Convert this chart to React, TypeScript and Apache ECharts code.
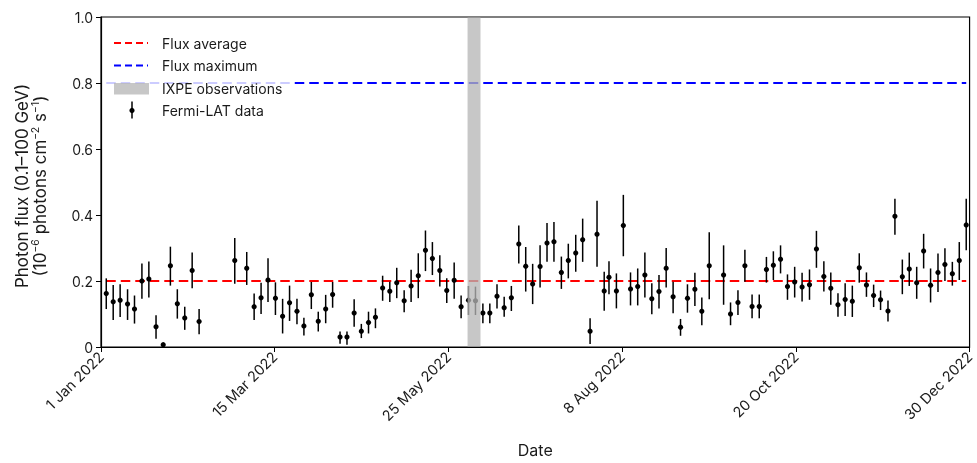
import React, { useEffect, useRef } from "react";
import * as echarts from "echarts";

const xTickLabels = ["1 Jan 2022", "15 Mar 2022", "25 May 2022", "8 Aug 2022", "20 Oct 2022", "30 Dec 2022"];
const xTickStep = 72.6;
const xMaxDay = 363;
const yTickLabels = ["0", "0.2", "0.4", "0.6", "0.8", "1.0"];

const days = [
  2.2, 5.1, 8.0, 11.1, 14.0, 17.1, 20.0, 23.0, 26.0, 29.0, 31.9, 35.0, 38.1, 41.0, 55.9, 60.9, 64.0, 66.9, 69.8,
  72.9, 75.9, 78.8, 81.9, 84.8, 87.9, 90.8, 93.9, 96.8, 99.9, 102.8, 105.8, 108.8, 111.8, 114.7, 117.7, 120.7, 123.6, 126.7, 129.6, 132.6, 135.6, 138.5, 141.6,
  144.5, 147.6, 150.5, 153.6, 156.5, 159.6, 162.5, 165.5, 168.5, 171.5, 174.6, 177.5, 180.4, 183.5, 186.4, 189.3, 192.4, 195.3, 198.4, 201.3, 204.4, 207.3, 210.3, 212.3,
  215.4, 218.3, 221.3, 224.3, 227.3, 230.2, 233.2, 236.2, 239.1, 242.2, 245.1, 248.2, 251.1, 254.2, 260.2, 263.1, 266.2, 269.1, 272.1, 275.1, 278.1, 281.0, 284.0,
  286.9, 289.9, 293.0, 296.1, 299.0, 302.1, 305.0, 308.0, 311.0, 314.0, 316.9, 319.9, 322.9, 325.8, 328.9, 331.8, 334.9, 337.8, 340.9, 343.8, 346.7, 349.8, 352.7, 355.8, 358.7, 361.6,
];

const flux = [
  0.162, 0.137, 0.142, 0.130, 0.115, 0.200, 0.206, 0.061, 0.007, 0.246, 0.131, 0.088, 0.232, 0.077, 0.262, 0.239, 0.122, 0.149, 0.203,
  0.148, 0.093, 0.134, 0.108, 0.064, 0.158, 0.078, 0.115, 0.159, 0.030, 0.030, 0.103, 0.048, 0.074, 0.090, 0.179, 0.169, 0.195, 0.140, 0.185, 0.216, 0.293, 0.268, 0.232,
  0.171, 0.202, 0.122, 0.142, 0.140, 0.103, 0.103, 0.154, 0.119, 0.149, 0.312, 0.245, 0.191, 0.244, 0.315, 0.319, 0.226, 0.262, 0.285, 0.325, 0.048, 0.342, 0.170, 0.211,
  0.170, 0.368, 0.176, 0.183, 0.218, 0.146, 0.168, 0.239, 0.152, 0.060, 0.148, 0.175, 0.108, 0.246, 0.218, 0.100, 0.135, 0.246, 0.123, 0.123, 0.235, 0.248, 0.266,
  0.183, 0.197, 0.182, 0.189, 0.297, 0.214, 0.178, 0.128, 0.144, 0.139, 0.240, 0.188, 0.156, 0.143, 0.109, 0.396, 0.213, 0.236, 0.195, 0.291, 0.187, 0.226, 0.250, 0.222, 0.262, 0.370,
];

const fluxHigh = [
  0.208, 0.188, 0.190, 0.175, 0.156, 0.253, 0.259, 0.096, 0.012, 0.304, 0.175, 0.122, 0.286, 0.115, 0.330, 0.288, 0.162, 0.195, 0.269,
  0.196, 0.146, 0.186, 0.146, 0.089, 0.197, 0.107, 0.158, 0.197, 0.047, 0.047, 0.145, 0.070, 0.107, 0.117, 0.216, 0.198, 0.240, 0.172, 0.234, 0.284, 0.353, 0.318, 0.278,
  0.208, 0.256, 0.156, 0.185, 0.183, 0.132, 0.132, 0.190, 0.152, 0.185, 0.368, 0.303, 0.252, 0.308, 0.376, 0.379, 0.274, 0.313, 0.340, 0.389, 0.087, 0.443, 0.228, 0.260,
  0.223, 0.461, 0.226, 0.238, 0.286, 0.193, 0.218, 0.300, 0.198, 0.085, 0.190, 0.225, 0.150, 0.348, 0.308, 0.135, 0.172, 0.295, 0.159, 0.159, 0.273, 0.290, 0.308,
  0.220, 0.243, 0.225, 0.235, 0.352, 0.260, 0.226, 0.163, 0.193, 0.186, 0.284, 0.226, 0.189, 0.171, 0.141, 0.449, 0.265, 0.286, 0.243, 0.343, 0.238, 0.283, 0.299, 0.258, 0.318, 0.449,
];

const fluxLow = [
  0.115, 0.082, 0.091, 0.082, 0.071, 0.146, 0.150, 0.025, 0.002, 0.186, 0.086, 0.052, 0.178, 0.039, 0.192, 0.188, 0.082, 0.100, 0.136,
  0.097, 0.041, 0.079, 0.069, 0.035, 0.115, 0.047, 0.072, 0.119, 0.010, 0.007, 0.061, 0.027, 0.041, 0.057, 0.140, 0.136, 0.148, 0.105, 0.136, 0.148, 0.230, 0.218, 0.183,
  0.133, 0.146, 0.087, 0.097, 0.097, 0.072, 0.072, 0.117, 0.092, 0.109, 0.253, 0.168, 0.130, 0.180, 0.258, 0.258, 0.176, 0.208, 0.228, 0.258, 0.009, 0.243, 0.110, 0.160,
  0.117, 0.275, 0.126, 0.126, 0.150, 0.099, 0.117, 0.180, 0.102, 0.034, 0.104, 0.124, 0.066, 0.145, 0.128, 0.066, 0.097, 0.198, 0.087, 0.087, 0.195, 0.203, 0.223,
  0.143, 0.150, 0.138, 0.143, 0.240, 0.168, 0.128, 0.092, 0.094, 0.091, 0.195, 0.152, 0.121, 0.112, 0.077, 0.340, 0.160, 0.185, 0.146, 0.238, 0.135, 0.167, 0.200, 0.186, 0.203, 0.293,
];

const fluxAverage = 0.2;
const fluxMaximum = 0.8;
const ixpeWindow = [153.2, 158.6];

const legendLabels = ["Flux average", "Flux maximum", "IXPE observations", "Fermi-LAT data"];
const yTitleLine1 = "Photon flux (0.1–100 GeV)";
const xTitle = "Date";

const FONT = "Inter, 'Noto Sans', sans-serif";
const TEXT = "#1a1a1a";
const BAND = "rgba(181,181,181,0.76)";

export default function App() {
  const ref = useRef<HTMLDivElement>(null);

  useEffect(() => {
    if (!ref.current) return;
    const chart = echarts.init(ref.current, undefined, { renderer: "svg" });
    const first = days[0];
    const last = days[days.length - 1];
    const points = days.map((d, i) => [d, flux[i], fluxHigh[i], fluxLow[i]]);

    const legendX = 114;
    const legendRows = [43, 65.5, 88.5, 110.5];

    chart.setOption({
      animation: false,
      textStyle: { fontFamily: FONT },
      grid: {
        left: 101, right: 7, top: 17, bottom: 114,
        show: true, borderColor: "#000", borderWidth: 1.2, backgroundColor: "transparent",
      },
      xAxis: {
        type: "value",
        min: 0,
        max: xMaxDay,
        interval: xTickStep,
        name: xTitle,
        nameLocation: "middle",
        nameGap: 95,
        nameTextStyle: { fontSize: 16, color: TEXT, fontFamily: FONT },
        axisLine: { show: true, lineStyle: { color: "#000", width: 1.2 } },
        axisTick: { show: true, length: 5, lineStyle: { color: "#000", width: 1 } },
        splitLine: { show: false },
        axisLabel: {
          rotate: 45,
          fontSize: 14.5,
          color: TEXT,
          fontFamily: FONT,
          margin: 7,
          formatter: (v: number) => xTickLabels[Math.round(v / xTickStep)] ?? "",
        },
      },
      yAxis: {
        type: "value",
        min: 0,
        max: 1,
        interval: 0.2,
        axisLine: { show: true, lineStyle: { color: "#000", width: 1.2 } },
        axisTick: { show: true, length: 5, lineStyle: { color: "#000", width: 1 } },
        splitLine: { show: false },
        axisLabel: {
          fontSize: 14,
          color: TEXT,
          fontFamily: FONT,
          margin: 8,
          formatter: (v: number) => yTickLabels[Math.round(v / 0.2)] ?? "",
        },
      },
      series: [
        {
          type: "line",
          name: legendLabels[1],
          data: [[first, fluxMaximum], [last, fluxMaximum]],
          symbol: "none",
          z: 3,
          lineStyle: { color: "#0000ff", width: 2, type: [9.5, 5] },
        },
        {
          type: "line",
          name: legendLabels[0],
          data: [[first, fluxAverage], [last, fluxAverage]],
          symbol: "none",
          z: 3,
          lineStyle: { color: "#ff0000", width: 2, type: [9.5, 5] },
        },
        {
          type: "custom",
          name: legendLabels[3],
          z: 4,
          data: points,
          encode: { x: 0, y: 1 },
          renderItem: (_params: any, api: any) => {
            const x = api.value(0);
            const p = api.coord([x, api.value(1)]);
            const ph = api.coord([x, api.value(2)]);
            const pl = api.coord([x, api.value(3)]);
            return {
              type: "group",
              children: [
                { type: "line", shape: { x1: p[0], y1: ph[1], x2: p[0], y2: pl[1] }, style: { stroke: "#000", lineWidth: 1.5 } },
                { type: "circle", shape: { cx: p[0], cy: p[1], r: 2.6 }, style: { fill: "#000" } },
              ],
            };
          },
        },
        {
          type: "custom",
          name: legendLabels[2],
          z: 8,
          silent: true,
          data: [[ixpeWindow[0], ixpeWindow[1]]],
          encode: { x: [0, 1] },
          renderItem: (_params: any, api: any) => {
            const a = api.coord([api.value(0), 1]);
            const b = api.coord([api.value(1), 0]);
            return {
              type: "rect",
              shape: { x: a[0], y: a[1] + 0.6, width: b[0] - a[0], height: b[1] - a[1] - 1.2 },
              style: { fill: BAND },
            };
          },
        },
      ],
      graphic: [
        {
          type: "rect", z: 100,
          shape: { x: 105, y: 27, width: 185, height: 97, r: 3 },
          style: { fill: "rgba(255,255,255,0.8)", stroke: "none" },
        },
        {
          type: "line", z: 101,
          shape: { x1: legendX, y1: legendRows[0], x2: legendX + 34, y2: legendRows[0] },
          style: { stroke: "#ff0000", lineWidth: 2, lineDash: [7, 4] },
        },
        {
          type: "line", z: 101,
          shape: { x1: legendX, y1: legendRows[1], x2: legendX + 34, y2: legendRows[1] },
          style: { stroke: "#0000ff", lineWidth: 2, lineDash: [7, 4] },
        },
        {
          type: "rect", z: 101,
          shape: { x: legendX, y: legendRows[2] - 5.5, width: 35, height: 11.5 },
          style: { fill: BAND },
        },
        {
          type: "line", z: 101,
          shape: { x1: legendX + 18, y1: legendRows[3] - 9, x2: legendX + 18, y2: legendRows[3] + 8 },
          style: { stroke: "#000", lineWidth: 1.5 },
        },
        {
          type: "circle", z: 101,
          shape: { cx: legendX + 18, cy: legendRows[3], r: 2.6 },
          style: { fill: "#000" },
        },
        ...legendLabels.map((t, i) => ({
          type: "text", z: 101,
          x: 162, y: legendRows[i],
          style: { text: t, fontSize: 14, fontFamily: FONT, fill: TEXT, align: "left", verticalAlign: "middle" },
        })),
        {
          type: "text", z: 101,
          x: 22, y: 186, rotation: Math.PI / 2,
          style: { text: yTitleLine1, fontSize: 17, fontFamily: FONT, fill: TEXT, align: "center", verticalAlign: "middle" },
        },
        {
          type: "text", z: 101,
          x: 40, y: 186, rotation: Math.PI / 2,
          style: {
            text: "(10{sup|−6} photons cm{sup|−2} s{sup|−1})",
            fontSize: 17, fontFamily: FONT, fill: TEXT, align: "center", verticalAlign: "middle",
            lineHeight: 20,
            rich: {
              sup: { fontSize: 10.5, fontFamily: FONT, fill: TEXT, verticalAlign: "top", lineHeight: 10 },
            },
          },
        },
      ],
    });

    return () => chart.dispose();
  }, []);

  return <div ref={ref} style={{ position: "fixed", left: 0, top: 0, width: 977, height: 463 }} />;
}
